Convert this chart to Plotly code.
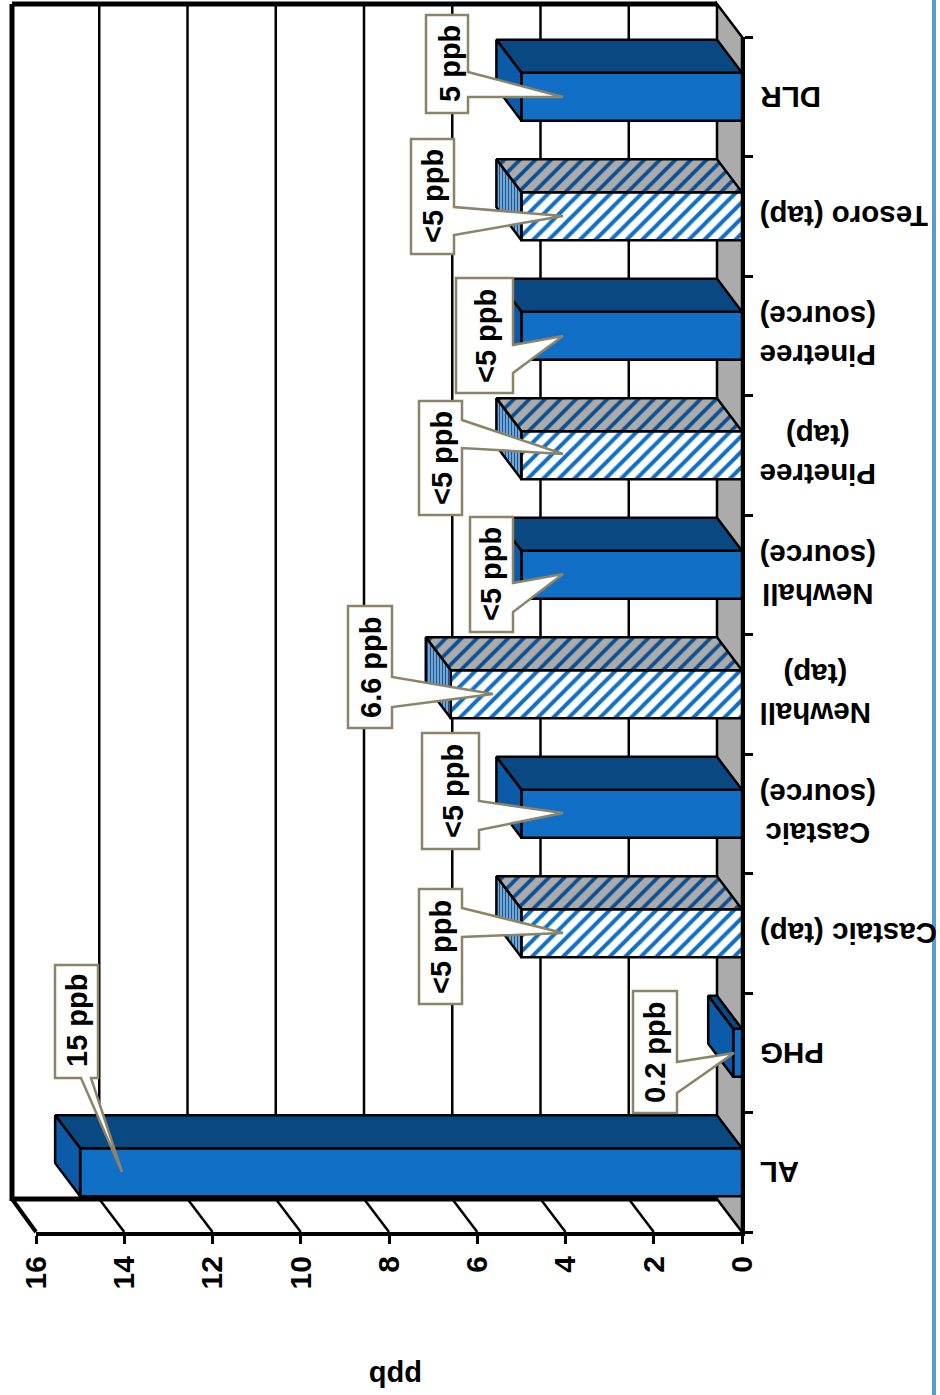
import plotly.graph_objects as go

# ---------- data ----------
categories = ["AL", "PHG", "Castaic (tap)", "Castaic<br>(source)", "Newhall<br>(tap)",
              "Newhall<br>(source)", "Pinetree<br>(tap)", "Pinetree<br>(source)",
              "Tesoro (tap)", "DLR"]
values = [15, 0.2, 5, 5, 6.6, 5, 5, 5, 5, 5]
hatched = [False, False, True, False, True, False, True, False, True, False]
value_labels = ["15 ppb", "0.2 ppb", "&lt;5 ppb", "&lt;5 ppb", "6.6 ppb",
                "&lt;5 ppb", "&lt;5 ppb", "&lt;5 ppb", "&lt;5 ppb", "5 ppb"]
value_ticks = [0, 2, 4, 6, 8, 10, 12, 14, 16]
axis_title = "ppb"

# ---------- layout constants (pixels) ----------
W, H = 940, 1395
X0, X16 = 742, 36          # front plane x of value 0 / value 16
Y_BOTTOM, Y_TOP = 1232, 37 # front plane y range of the category axis
DX_PX, DY_PX = 25, 33      # 3D depth offset
BAR_W = 0.40
FONT = "Liberation Sans"
FS = 29
LW = 2.5
BLACK = "#000000"
FRONT = "#1170C6"
TOP = "#0A4881"
SIDE = "#0C5BA8"
GRAY = "#ABABAB"
TAN = "#8C8468"

ppu_x = (X0 - X16) / 16
ppu_y = (Y_BOTTOM - Y_TOP) / 10
DX = DX_PX / ppu_x
DY = DY_PX / ppu_y


def px(x):
    return x / W


def py(y):
    return 1 - y / H


n = len(categories)
idx = list(range(n))
fig = go.Figure()

# front faces through real bars
for flag in (False, True):
    ys = [i for i in idx if hatched[i] == flag]
    xs = [values[i] for i in ys]
    marker = dict(line=dict(color=BLACK, width=LW))
    if flag:
        marker.update(color="white",
                      pattern=dict(shape="/", fgcolor=FRONT, bgcolor="white", fgopacity=1,
                                   size=11, solidity=0.36))
    else:
        marker.update(color=FRONT)
    fig.add_trace(go.Bar(x=xs, y=ys, orientation="h", width=BAR_W, marker=marker,
                         showlegend=False, hoverinfo="skip"))

# depth faces
for i in idx:
    v = values[i]
    t, b = i + BAR_W / 2, i - BAR_W / 2
    top_kw = dict(fillcolor=TOP)
    side_kw = dict(fillcolor=SIDE)
    if hatched[i]:
        top_kw = dict(fillpattern=dict(shape="/", fgcolor="#0B4F94", bgcolor=GRAY, fgopacity=1,
                                       size=11, solidity=0.34))
        side_kw = dict(fillpattern=dict(shape="|", fgcolor="#0F5BA3", bgcolor="#A9C6DE", fgopacity=1,
                                        size=3, solidity=0.55))
    fig.add_trace(go.Scatter(x=[0, v, v + DX, DX, 0], y=[t, t, t + DY, t + DY, t], mode="lines",
                             fill="toself", line=dict(color=BLACK, width=LW),
                             showlegend=False, hoverinfo="skip", **top_kw))
    fig.add_trace(go.Scatter(x=[v, v, v + DX, v + DX, v], y=[t, b, b + DY, t + DY, t], mode="lines",
                             fill="toself", line=dict(color=BLACK, width=LW),
                             showlegend=False, hoverinfo="skip", **side_kw))

# callouts: pixel outlines of the speech boxes, with the label centre
callouts = [
    ([(55, 965), (98, 965), (98, 1078), (91, 1078), (122, 1172), (81, 1078), (55, 1078)], (77, 1021)),
    ([(633, 991), (677, 991), (677, 1062), (734, 1053), (677, 1093), (677, 1113), (633, 1113)], (655, 1052)),
    ([(419, 889), (462, 889), (462, 908), (563, 933), (462, 937), (462, 1004), (419, 1004)], (441, 947)),
    ([(422, 733), (479, 733), (479, 801), (563, 813), (479, 830), (479, 849), (422, 849)], (453, 791)),
    ([(348, 606), (392, 606), (392, 677), (493, 694), (392, 707), (392, 728), (348, 728)], (371, 667)),
    ([(470, 517), (513, 517), (513, 583), (563, 574), (513, 612), (513, 632), (470, 632)], (491, 574)),
    ([(419, 401), (462, 401), (462, 420), (563, 454), (462, 448), (462, 515), (419, 515)], (442, 458)),
    ([(456, 278), (513, 278), (513, 345), (563, 336), (513, 373), (513, 393), (456, 393)], (486, 336)),
    ([(411, 139), (454, 139), (454, 207), (563, 216), (454, 235), (454, 254), (411, 254)], (433, 196)),
    ([(426, 15), (468, 15), (468, 72), (563, 97), (468, 97), (468, 113), (426, 113)], (450, 64)),
]
annotations = []
callout_shapes = []
for (pts, (cx, cy)), label in zip(callouts, value_labels):
    path = "M " + " L ".join(f"{px(p[0])} {py(p[1])}" for p in pts) + " Z"
    callout_shapes.append(dict(type="path", xref="paper", yref="paper", layer="above", path=path,
                               fillcolor="white", line=dict(color=TAN, width=LW)))
    annotations.append(dict(x=px(cx), y=py(cy), text=label, textangle=-90, showarrow=False,
                            xref="paper", yref="paper", xanchor="center", yanchor="middle",
                            font=dict(family=FONT, size=FS, color=BLACK, weight="bold")))

# category labels
for i, c in zip(idx, categories):
    annotations.append(dict(x=0, y=i, xshift=16, text=c, textangle=180, showarrow=False,
                            xref="x", yref="y", xanchor="left", yanchor="middle", align="center",
                            font=dict(family=FONT, size=FS + 0.5, color=BLACK, weight="bold")))
# axis title
annotations.append(dict(x=396 / W, y=py(1376), text=axis_title, textangle=180, showarrow=False,
                        xref="paper", yref="paper", xanchor="center", yanchor="middle",
                        font=dict(family=FONT, size=FS, color=BLACK, weight="bold")))

# walls, floor, grid behind the bars


def line(x0, y0, x1, y1, w=LW, color=BLACK):
    return dict(type="line", xref="paper", yref="paper", layer="below",
                x0=px(x0), y0=py(y0), x1=px(x1), y1=py(y1), line=dict(color=color, width=w))


BX1, BX0 = X0 - DX_PX, X16 - DX_PX
BY0, BY1 = Y_TOP - DY_PX, Y_BOTTOM - DY_PX
shapes = [
    dict(type="path", xref="paper", yref="paper", layer="below",
         path=f"M {px(BX1)} {py(BY0)} L {px(X0)} {py(Y_TOP)} L {px(X0)} {py(Y_BOTTOM)} L {px(BX1)} {py(BY1)} Z",
         fillcolor=GRAY, line=dict(color=BLACK, width=LW)),
]
for v in value_ticks[1:-1]:
    xf = X0 - v * ppu_x
    shapes.append(line(xf - DX_PX, BY0, xf - DX_PX, BY1))
    shapes.append(line(xf - DX_PX, BY1, xf, Y_BOTTOM))
shapes += [
    line(BX0 + 1, BY0, BX0 + 1, BY1 + 2, 5),
    line(BX0 + 1, BY0, BX1, BY0, 5),
    line(BX0 + 1, BY1, BX1, BY1, 5),
    line(BX0 + 1, BY1, X16, Y_BOTTOM, 4),
    line(934, 0, 934, H, 4, "#5B9BD5"),
]
shapes += callout_shapes

fig.update_layout(
    width=W, height=H, margin=dict(l=0, r=0, t=0, b=0), autosize=False,
    paper_bgcolor="white", plot_bgcolor="rgba(0,0,0,0)", barmode="overlay", showlegend=False,
    shapes=shapes, annotations=annotations,
    xaxis=dict(domain=[X16 / W, X0 / W], range=[16, 0], tickvals=value_ticks, tickangle=-90,
               ticks="outside", ticklen=8, tickwidth=LW, tickcolor=BLACK, showline=True, linewidth=4,
               linecolor=BLACK, showgrid=False, zeroline=False, anchor="y", automargin=False,
               tickfont=dict(family=FONT, size=FS + 1, color=BLACK, weight="bold")),
    yaxis=dict(domain=[1 - Y_BOTTOM / H, 1 - Y_TOP / H], range=[-0.5, n - 0.5], tickmode="array",
               tickvals=[i - 0.5 for i in range(n + 1)], side="right", ticks="outside", ticklen=8,
               tickwidth=LW, tickcolor=BLACK, showticklabels=False, showline=True, linewidth=LW,
               linecolor=BLACK, showgrid=False, zeroline=False, anchor="x", automargin=False),
)

fig.write_html("out.html", config=dict(displayModeBar=False),
               post_script="document.body.style.margin='0';document.documentElement.style.overflow='hidden';")
